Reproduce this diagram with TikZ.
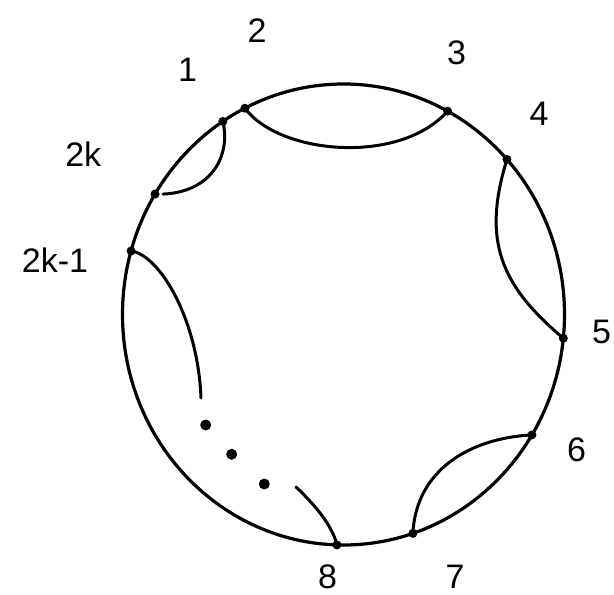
\documentclass[tikz,border=0pt]{standalone}
\usepackage{fontspec}
\setmainfont{Liberation Sans}
\begin{document}
\begin{tikzpicture}[x=1pt,y=-1pt,line width=3.2pt,
  pt/.style={circle,fill,inner sep=0pt,minimum size=9pt},
  edot/.style={circle,fill,inner sep=0pt,minimum size=11pt},
  lab/.style={font=\fontsize{34}{34}\selectfont,inner sep=0pt},
  chord/.style={line width=3pt,line cap=round}]
\useasboundingbox (0,0) rectangle (614,595);
\coordinate (c) at (343.5,314.5);
\draw (c) ellipse [x radius=221pt, y radius=230.5pt];
% points on the circle
\path (c) ++(236.9:221 and 230.5) node[pt] (p1) {};
\path (c) ++(243.5:221 and 230.5) node[pt] (p2) {};
\path (c) ++(298.1:221 and 230.5) node[pt] (p3) {};
\path (c) ++(317.7:221 and 230.5) node[pt] (p4) {};
\path (c) ++(5.9:221 and 230.5) node[pt] (p5) {};
\path (c) ++(31.5:221 and 230.5) node[pt] (p6) {};
\path (c) ++(71.7:221 and 230.5) node[pt] (p7) {};
\path (c) ++(91.7:221 and 230.5) node[pt] (p8) {};
\path (c) ++(211.5:221 and 230.5) node[pt] (p2k) {};
\path (c) ++(196.0:221 and 230.5) node[pt] (p2km) {};
% free ends
\coordinate (e1) at (201,398);
\coordinate (e2) at (296,487);
% ellipsis dots
\node[edot] (d1) at (205.7,425) {};
\node[edot] (d2) at (231.7,454.3) {};
\node[edot] (d3) at (264.3,484) {};
% chords
\draw[chord] (p1.center) .. controls (231,155) and (212,192) .. ([xshift=8pt]p2k.center);
\draw[chord] (p2.center) .. controls (280,155) and (400,165) .. (p3.center);
\draw[chord] (p4.center) .. controls (482,240) and (500,285) .. (p5.center);
\draw[chord] (p6.center) .. controls (470,438) and (416,470) .. (p7.center);
\draw[chord] (p2km.center) .. controls (160,255) and (198,320) .. (e1);
\draw[chord] (p8.center) .. controls (332,525) and (315,505) .. (e2);
% labels
\node[lab] (l1) at (187.5,70) {1};
\node[lab] (l2) at (257,30.5) {2};
\node[lab] (l3) at (456.7,53) {3};
\node[lab] (l4) at (539,114) {4};
\node[lab] (l5) at (601.5,331.5) {5};
\node[lab] (l6) at (576.5,450) {6};
\node[lab] (l7) at (455,577) {7};
\node[lab] (l8) at (327.5,577) {8};
\node[lab] (l2k) at (83.3,154.5) {2k};
\node[lab] (l2km) at (55,260) {2k-1};
\end{tikzpicture}
\end{document}
